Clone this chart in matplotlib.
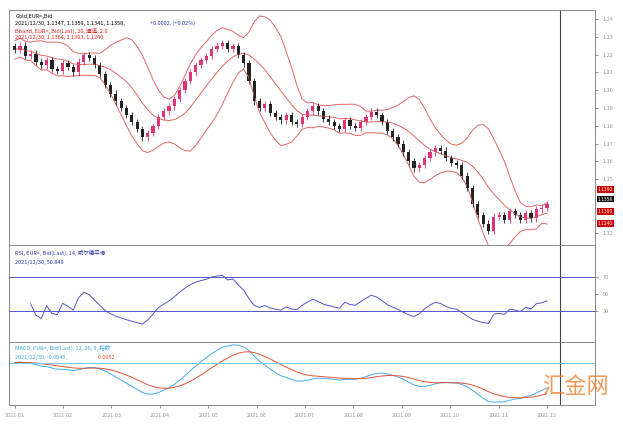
import matplotlib
matplotlib.use("Agg")
import matplotlib.pyplot as plt
import numpy as np
import pandas as pd

plt.rcParams['font.family'] = ['Noto Sans CJK SC', 'DejaVu Sans']

closes = [1.2226,1.2250,1.2190,1.2205,1.2160,1.2139,1.2170,1.2120,1.2110,1.2150,1.2130,1.2100,1.2160,1.2197,1.2180,1.2140,1.2090,1.2030,1.1980,1.1937,
          1.1900,1.1860,1.1820,1.1780,1.1734,1.1760,1.1800,1.1850,1.1880,1.1908,1.1950,1.2000,1.2050,1.2100,1.2140,1.2168,1.2190,1.2230,1.2250,1.2266,
          1.2230,1.2245,1.2197,1.2150,1.2050,1.1937,1.1900,1.1920,1.1870,1.1850,1.1830,1.1860,1.1821,1.1810,1.1850,1.1880,1.1908,1.1880,1.1840,1.1821,
          1.1800,1.1780,1.1830,1.1800,1.1790,1.1821,1.1850,1.1879,1.1860,1.1820,1.1770,1.1734,1.1700,1.1650,1.1600,1.1560,1.1580,1.1620,1.1650,1.1676,
          1.1660,1.1620,1.1590,1.1580,1.1520,1.1450,1.1360,1.1300,1.1250,1.1210,1.1290,1.1300,1.1270,1.1320,1.1300,1.1270,1.1310,1.1280,1.1330,1.1340,1.1358]
years = ["2021.01","2021.02","2021.03","2021.04","2021.05","2021.06","2021.07","2021.08","2021.09","2021.10","2021.11","2021.12"]
tags = ["1.1390", "1.1358", "1.1300", "1.1240"]
price_ticks = [1.12, 1.15, 1.16, 1.17, 1.18, 1.19, 1.20, 1.21, 1.22, 1.23, 1.24]

c = pd.Series(closes)
o = c.shift(1).fillna(c.iloc[0]+0.002)
n = len(c)
x = np.arange(n)
W = 10
mid = c.rolling(W, min_periods=1).mean()
sd = c.rolling(W, min_periods=4).std().bfill()
up, lo = mid + 2*sd, mid - 2*sd
d = c.diff().fillna(0)
g = d.clip(lower=0).ewm(alpha=1/14, adjust=False).mean()
l = (-d.clip(upper=0)).ewm(alpha=1/14, adjust=False).mean()
rsi = 100 - 100/(1+g/(l+1e-9))
rsi[:3] = np.nan
macd = c.ewm(span=12, adjust=False).mean() - c.ewm(span=26, adjust=False).mean()
sig = macd.ewm(span=9, adjust=False).mean()

fig = plt.figure(figsize=(6.23, 4.25), dpi=100)
H = 425
def ax_at(y0, y1):
    return fig.add_axes([0.015, 1-y1/H, 0.94, (y1-y0)/H])
a1 = ax_at(10, 245); a2 = ax_at(245, 342); a3 = ax_at(342, 405)
for a in (a1, a2, a3):
    a.set_xlim(-1, n+8)
    a.yaxis.tick_right()
    a.tick_params(labelsize=4, colors='#999999', length=2)
    a.set_xticks([])
    for s in a.spines.values(): s.set_color('#777777'); s.set_linewidth(0.6)
    a.axvline(n+1.5, color='#444444', lw=0.8)

a1.plot(x, up, color='#e06666', lw=0.7); a1.plot(x, lo, color='#e06666', lw=0.7); a1.plot(x, mid, color='#e06666', lw=0.7)
for i in range(n):
    col = '#dd3377' if c[i] >= o[i] else '#222222'
    hi = max(c[i], o[i]) + 0.0018; lw_ = min(c[i], o[i]) - 0.0018
    a1.vlines(i, lw_, hi, color=col, lw=0.6)
    a1.bar(i, abs(c[i]-o[i]) or 0.0004, bottom=min(c[i], o[i]), width=0.6, color=col)
a1.set_ylim(1.113, 1.245)
a1.set_yticks(price_ticks)
a1.text(0.01, 0.985, "Gold,EUR=,Bid", transform=a1.transAxes, fontsize=4, va='top')
a1.text(0.01, 0.955, "2021/12/30, 1.1347, 1.1359, 1.1341, 1.1358, ", transform=a1.transAxes, fontsize=4, va='top')
a1.text(0.24, 0.955, "+0.0002, (+0.02%)", transform=a1.transAxes, fontsize=4, va='top', color='#3333cc')
a1.text(0.01, 0.925, "Bband, EUR=, Bid(Last), 20, 通道, 2.0", transform=a1.transAxes, fontsize=4, va='top', color='#dd2222')
a1.text(0.01, 0.895, "2021/12/30, 1.1364, 1.1303, 1.1240", transform=a1.transAxes, fontsize=4, va='top', color='#dd2222')
for yy, col, lab in zip([1.1442, 1.1388, 1.1318, 1.1250], ['#cc0000','#111111','#cc0000','#cc0000'], tags):
    a1.text(1.005, yy, lab, transform=a1.get_yaxis_transform(), fontsize=3.5, color='white', va='center',
            bbox=dict(boxstyle='square,pad=0.15', fc=col, ec='none'))

a2.plot(x, rsi, color='#5555cc', lw=0.7)
a2.axhline(70, color='#5555cc', lw=0.7); a2.axhline(30, color='#5555cc', lw=0.7)
a2.set_ylim(-6, 108); a2.set_yticks([30, 50, 70])
a2.text(0.01, 0.95, "RSI, EUR=, Bid(Last), 14, 威尔德平滑", transform=a2.transAxes, fontsize=4, va='top', color='#3333aa')
a2.text(0.01, 0.85, "2021/12/30, 50.849", transform=a2.transAxes, fontsize=4, va='top', color='#3333aa')

a3.plot(x, macd, color='#44aaee', lw=0.7); a3.plot(x, sig, color='#dd5533', lw=0.7)
a3.axhline(0, color='#66ccee', lw=0.7)
a3.set_yticks([])
a3.text(0.01, 0.95, "MACD, EUR=, Bid(Last), 12, 26, 9, 指数", transform=a3.transAxes, fontsize=4, va='top', color='#33aadd')
a3.text(0.01, 0.8, "2021/12/30, -0.0045, ", transform=a3.transAxes, fontsize=4, va='top', color='#33aadd')
a3.text(0.15, 0.8, "-0.0052", transform=a3.transAxes, fontsize=4, va='top', color='#dd5533')
a3.set_xticks(np.linspace(0, n-1, len(years)))
a3.set_xticklabels(years, fontsize=4)
fig.text(0.87, 0.09, "汇金网", fontsize=16, color='#f08030', alpha=0.8, va='center')
fig.savefig("out.png", dpi=100)
